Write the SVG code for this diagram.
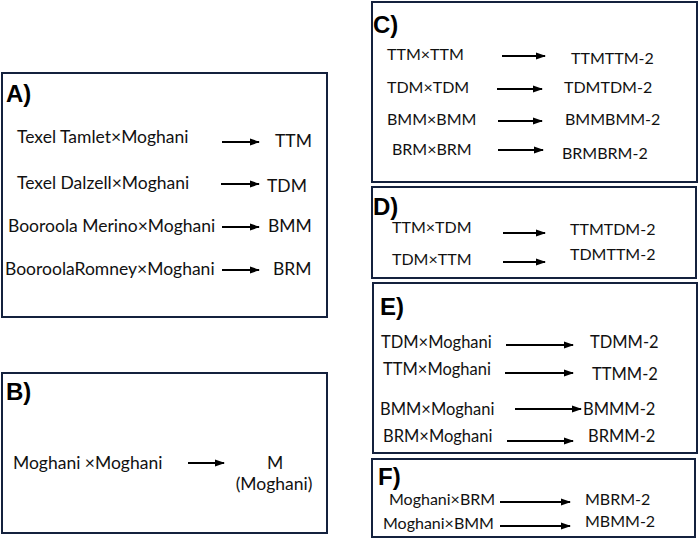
<svg xmlns="http://www.w3.org/2000/svg" width="700" height="538" viewBox="0 0 700 538">
<defs>
<marker id="ah" markerUnits="userSpaceOnUse" markerWidth="10" markerHeight="10" viewBox="0 0 10 10" refX="9" refY="5" orient="auto">
<path d="M0,1.5 L10,5 L0,8.5 Z" fill="#000"/>
</marker>
</defs>
<style>
.box{fill:#fff;stroke:#14213d;stroke-width:2}
.t{font-family:Lato,"Open Sans","Liberation Sans",sans-serif;font-size:16px;fill:#111}
.l{font-size:17.5px}
.m{font-size:16.5px}
.h{font-family:"Liberation Sans",Arial,sans-serif;font-size:24px;font-weight:bold;fill:#000}
.ar{stroke:#000;stroke-width:2.2;marker-end:url(#ah)}
</style>
<rect width="700" height="538" fill="#fff"/>
<g id="boxA">
<rect class="box" x="2" y="73" width="325" height="244"/>
<text class="h" x="6" y="102">A)</text>
<text class="t l" x="17" y="143">Texel Tamlet×Moghani</text>
<text class="t l" x="275" y="147">TTM</text>
<text class="t l" x="17" y="189">Texel Dalzell×Moghani</text>
<text class="t l" x="267" y="192">TDM</text>
<text class="t l" x="8" y="232">Booroola Merino×Moghani</text>
<text class="t l" x="268" y="232">BMM</text>
<text class="t l" x="5" y="275">BooroolaRomney×Moghani</text>
<text class="t l" x="273" y="275">BRM</text>
</g>
<g id="boxB">
<rect class="box" x="2" y="373" width="325" height="160"/>
<text class="h" x="6" y="400">B)</text>
<text class="t l" x="13" y="469">Moghani ×Moghani</text>
<text class="t l" x="275" y="469" text-anchor="middle">M</text>
<text class="t l" x="274" y="490" text-anchor="middle">(Moghani)</text>
</g>
<g id="boxC">
<rect class="box" x="372" y="2" width="325" height="180"/>
<text class="h" x="373" y="33">C)</text>
<text class="t" x="387" y="60">TTM×TTM</text>
<text class="t" x="571" y="64">TTMTTM-2</text>
<text class="t" x="387" y="93">TDM×TDM</text>
<text class="t" x="564" y="93">TDMTDM-2</text>
<text class="t" x="387" y="125">BMM×BMM</text>
<text class="t" x="565" y="125">BMMBMM-2</text>
<text class="t" x="392" y="155">BRM×BRM</text>
<text class="t" x="562" y="159">BRMBRM-2</text>
</g>
<g id="boxD">
<rect class="box" x="372" y="187" width="324" height="91"/>
<text class="h" x="373" y="215">D)</text>
<text class="t" x="392" y="233">TTM×TDM</text>
<text class="t" x="570" y="235">TTMTDM-2</text>
<text class="t" x="392" y="265">TDM×TTM</text>
<text class="t" x="570" y="260">TDMTTM-2</text>
</g>
<g id="boxE">
<rect class="box" x="373" y="283" width="324" height="170"/>
<text class="h" x="380" y="315">E)</text>
<text class="t m" x="381" y="348">TDM×Moghani</text>
<text class="t m" x="590" y="348">TDMM-2</text>
<text class="t m" x="383" y="375">TTM×Moghani</text>
<text class="t m" x="592" y="380">TTMM-2</text>
<text class="t m" x="380" y="415">BMM×Moghani</text>
<text class="t m" x="583" y="415">BMMM-2</text>
<text class="t m" x="383" y="442">BRM×Moghani</text>
<text class="t m" x="588" y="442">BRMM-2</text>
</g>
<g id="boxF">
<rect class="box" x="372" y="459" width="323" height="78"/>
<text class="h" x="378" y="485">F)</text>
<text class="t" x="389" y="505">Moghani×BRM</text>
<text class="t" x="585" y="505">MBRM-2</text>
<text class="t" x="383" y="529">Moghani×BMM</text>
<text class="t" x="585" y="527">MBMM-2</text>
</g>
<g id="connectors">
<line class="ar" x1="222" y1="142" x2="259" y2="142"/>
<line class="ar" x1="221" y1="184" x2="259" y2="184"/>
<line class="ar" x1="222" y1="227" x2="259" y2="227"/>
<line class="ar" x1="222" y1="270" x2="259" y2="270"/>
<line class="ar" x1="188" y1="463" x2="224" y2="463"/>
<line class="ar" x1="502" y1="56" x2="545" y2="56"/>
<line class="ar" x1="497" y1="89" x2="542" y2="89"/>
<line class="ar" x1="498" y1="121" x2="542" y2="121"/>
<line class="ar" x1="498" y1="150" x2="543" y2="150"/>
<line class="ar" x1="503" y1="233" x2="545" y2="233"/>
<line class="ar" x1="503" y1="262" x2="545" y2="262"/>
<line class="ar" x1="506" y1="345" x2="573" y2="345"/>
<line class="ar" x1="505" y1="373" x2="573" y2="373"/>
<line class="ar" x1="515" y1="409" x2="581" y2="409"/>
<line class="ar" x1="507" y1="441" x2="573" y2="441"/>
<line class="ar" x1="500" y1="502" x2="570" y2="502"/>
<line class="ar" x1="500" y1="526" x2="570" y2="526"/>
</g>
</svg>
